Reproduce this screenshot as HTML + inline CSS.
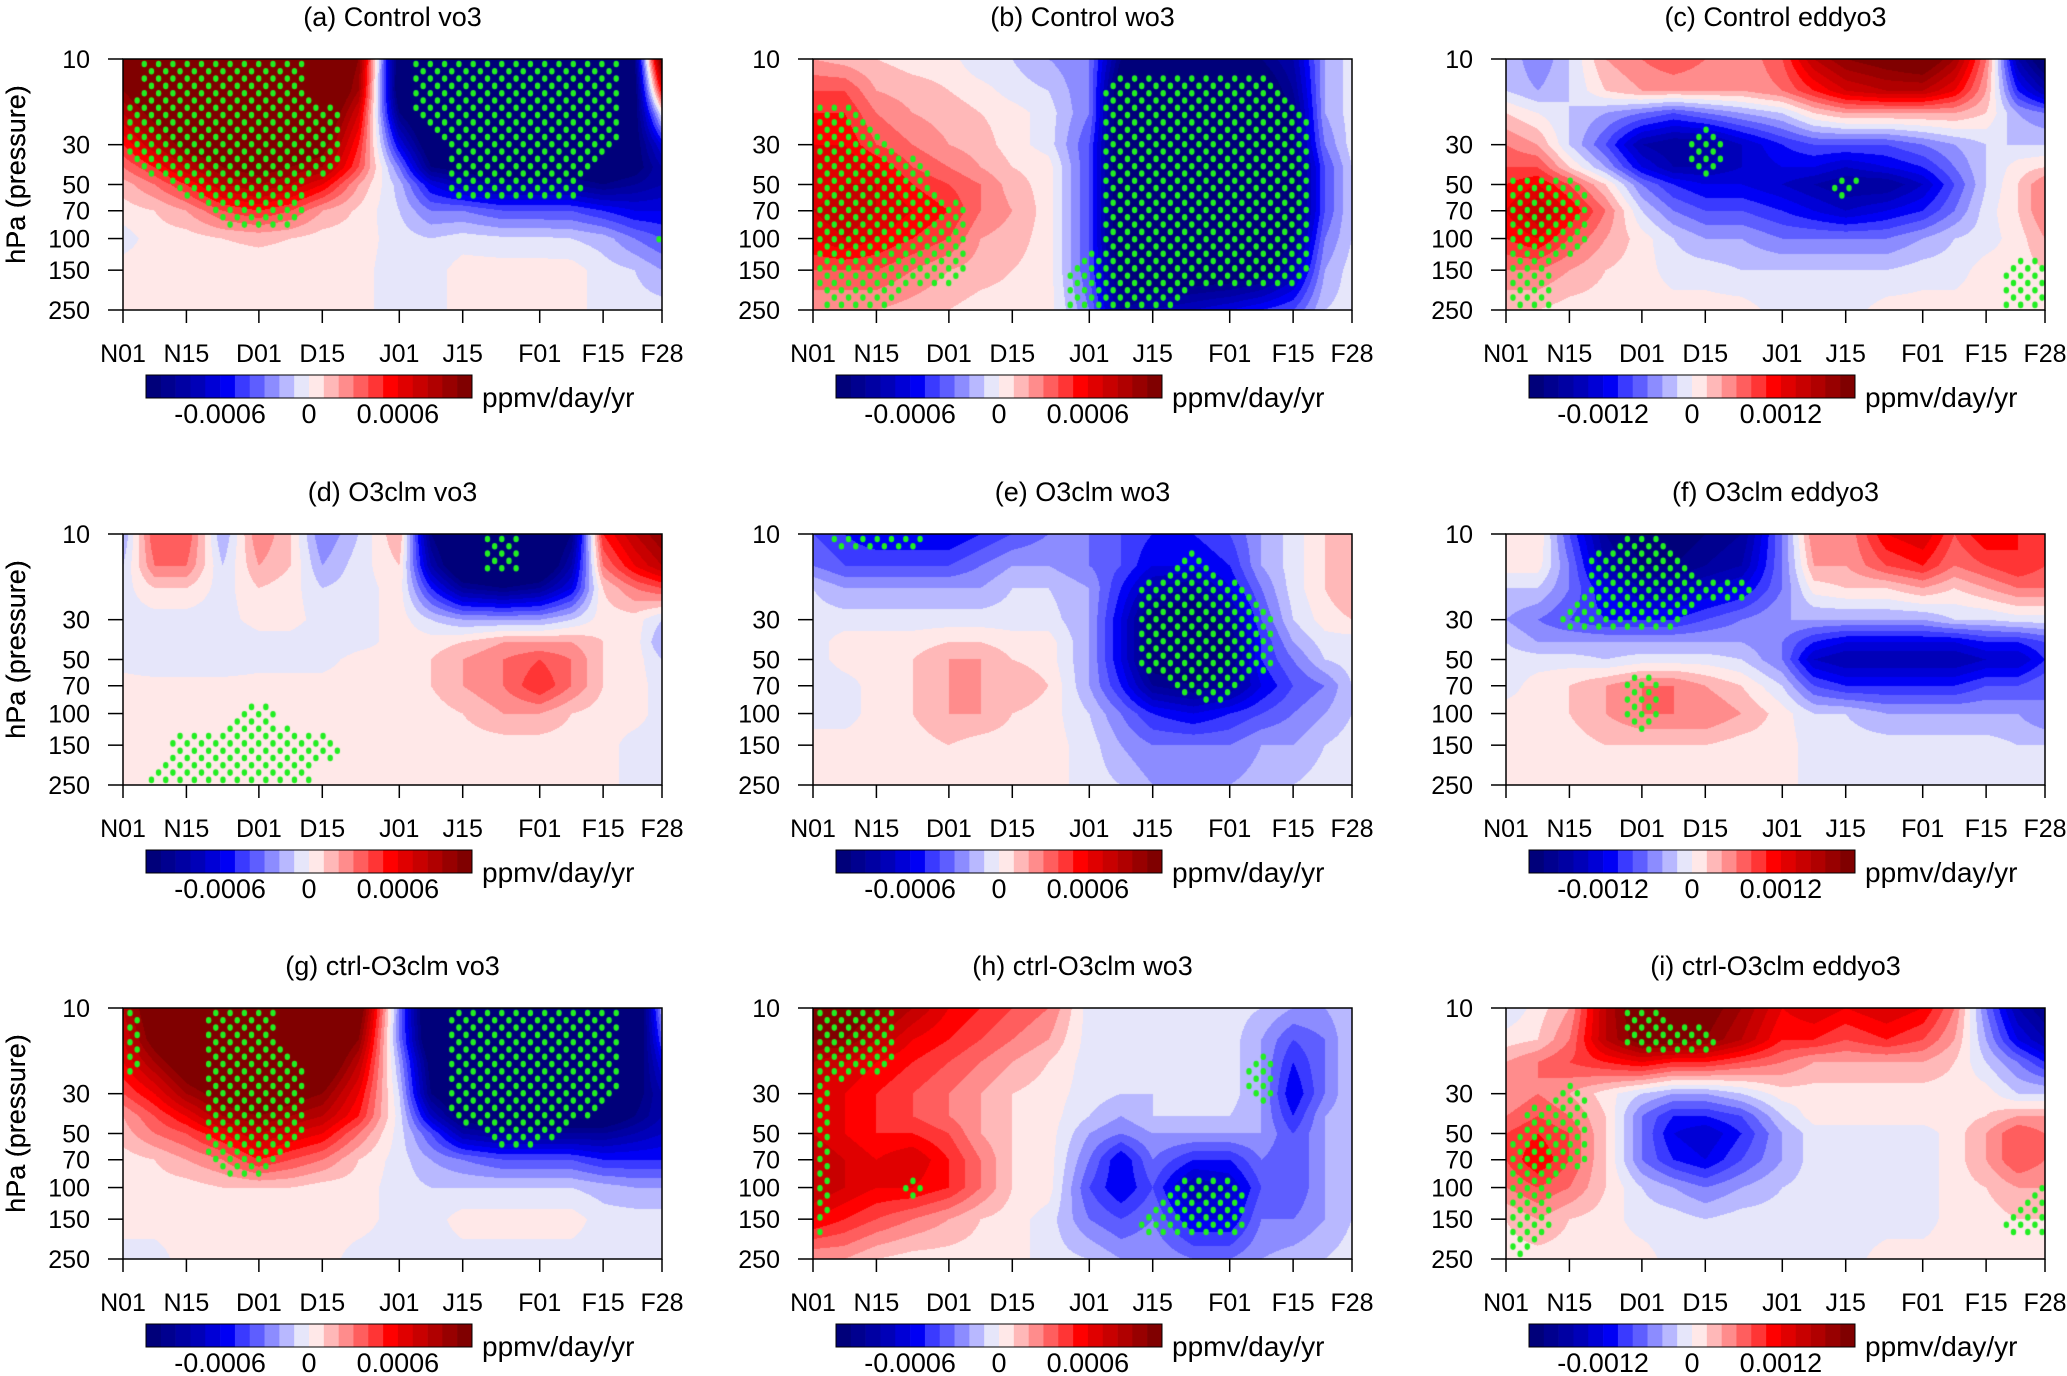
<!DOCTYPE html>
<html><head><meta charset="utf-8">
<style>
html,body{margin:0;padding:0;background:#fff;}
#wrap{position:relative;width:2067px;height:1376px;overflow:hidden;font-family:"Liberation Sans",sans-serif;}
canvas{position:absolute;}
svg{position:absolute;left:0;top:0;font-family:"Liberation Sans",sans-serif;}
</style></head>
<body>
<div id="wrap">
<svg id="svg" width="2067" height="1376"></svg>
</div>
<script>
// Grid coordinates (day since Nov 1, pressure hPa)
const days = [0,7,14,22,30,37,44,52,61,68,75,84,92,99,106,113,119];
const pressures = [10,15,20,30,40,50,70,100,150,250];
const xTickDays = [0,14,30,44,61,75,92,106,119];
const xTickLabels = ["N01","N15","D01","D15","J01","J15","F01","F15","F28"];
const yTickValues = [10,30,50,70,100,150,250];
const titles = ["(a) Control vo3","(b) Control wo3","(c) Control eddyo3","(d) O3clm vo3","(e) O3clm wo3","(f) O3clm eddyo3","(g) ctrl-O3clm vo3","(h) ctrl-O3clm wo3","(i) ctrl-O3clm eddyo3"];
const cbLabelsVo = ["-0.0006","0","0.0006"];
const cbLabelsEddy = ["-0.0012","0","0.0012"];
// values in colour-bar level units (1 level = 1e-4 for vo3/wo3, 2e-4 for eddyo3)
const valuesA = [
[12,14,15,15,15,15,14,10,-12,-15,-15,-15,-15,-15,-15,-10,12],
[10,13,14,15,15,15,14,9,-12,-15,-15,-15,-15,-15,-15,-11,6],
[8,11,13,14,15,14,13,7,-10,-14,-15,-15,-15,-15,-14,-11,0],
[5,8,11,12,13,12,11,5,-6,-12,-13,-14,-14,-13,-13,-11,-6],
[3,5,8,10,11,10,9,4,-3,-10,-11,-12,-12,-12,-12,-11,-8],
[1.5,3,5,8,9,8,6,2,-1.5,-6,-8,-9,-9,-9,-10,-9,-8],
[.5,1,2,4,5,4,2,.8,-1,-3,-3,-4,-4,-4,-5,-6,-6],
[-.5,.5,.5,1,1.2,1,.5,.5,-.5,-1,-.5,-.8,-.8,-1,-1.5,-3,-4],
[.5,.5,.5,.5,.5,.5,.5,.3,-.5,-.5,.5,.5,.5,.5,-.5,-1,-2],
[.5,.5,.5,.5,.5,.5,.5,.3,-.5,-.5,.5,.5,.5,.5,-.5,-.5,-.5]];
const maskA = [
[0,1,1,1,1,1,0,0,0,1,1,1,1,1,1,0,0],
[0,1,1,1,1,1,0,0,0,1,1,1,1,1,1,0,0],
[1,1,1,1,1,1,1,0,0,1,1,1,1,1,1,0,0],
[1,1,1,1,1,1,1,0,0,0,1,1,1,1,1,0,0],
[0,1,1,1,1,1,1,0,0,0,1,1,1,1,0,0,0],
[0,0,1,1,1,1,0,0,0,0,1,1,1,1,0,0,0],
[0,0,0,1,1,1,0,0,0,0,0,0,0,0,0,0,0],
[0,0,0,0,0,0,0,0,0,0,0,0,0,0,0,0,1],
[0,0,0,0,0,0,0,0,0,0,0,0,0,0,0,0,0],
[0,0,0,0,0,0,0,0,0,0,0,0,0,0,0,0,0]];
const valuesB = [
[2,1.5,1,.5,.5,-1,-1,-2,-3,-10,-11,-11,-11,-10,-8,-2,-.5],
[4,4,2,1.5,1,.5,-.5,-1,-3,-12,-13,-13,-13,-12,-9,-2,-.5],
[5,5,3,2,1.5,1,.5,-.5,-3,-12,-14,-14,-14,-13,-10,-2,-.5],
[6,6,4,3,2,1.5,.5,-.5,-4,-12,-14,-15,-14,-13,-10,-3,-.5],
[6,7,6,4,3,2,1,.5,-4,-12,-14,-15,-15,-14,-11,-4,-1],
[6,7,7,5,4,3,1.5,.5,-4,-12,-14,-15,-15,-14,-11,-4,-1],
[7,8,7,6,5,3,2,.5,-4,-12,-14,-15,-15,-14,-11,-4,-1],
[6,7,6,5,4,2,1.5,.5,-4,-12,-13,-14,-14,-13,-10,-3,-1],
[4,4,4,3,2,1.5,1,.5,-4,-11,-12,-12,-12,-11,-8,-2,-.5],
[2,2,2,1.5,1,.5,.5,.5,-3,-9,-8,-7,-6,-5,-4,-1,-.5]];
const maskB = [
[0,0,0,0,0,0,0,0,0,0,0,0,0,0,0,0,0],
[0,0,0,0,0,0,0,0,0,1,1,1,1,1,0,0,0],
[1,1,0,0,0,0,0,0,0,1,1,1,1,1,1,0,0],
[1,1,1,0,0,0,0,0,0,1,1,1,1,1,1,0,0],
[1,1,1,1,0,0,0,0,0,1,1,1,1,1,1,0,0],
[1,1,1,1,0,0,0,0,0,1,1,1,1,1,1,0,0],
[1,1,1,1,1,0,0,0,0,1,1,1,1,1,1,0,0],
[1,1,1,1,1,0,0,0,0,1,1,1,1,1,1,0,0],
[1,1,1,1,1,0,0,0,1,1,1,1,1,1,1,0,0],
[0,1,1,0,0,0,0,0,1,1,1,0,0,0,0,0,0]];
const valuesC = [
[-1,-3,-1,2,3,4,3,2,4,8,10,11,12,9,3,-8,-12],
[-1,-2,-1,1,2,2,2,2,3,5,7,8,8,6,2,-5,-8],
[1,0,-1,-2,-3,-4,-3,-2,-1,1,2,2,2,2,1,-2,-3],
[3,2,-1,-4,-8,-9,-9,-7,-5,-4,-4,-4,-3,-2,-1,-1,-1],
[4,4,1,-2,-6,-8,-8,-7,-6,-6,-7,-6,-5,-3,-1,.5,1],
[5,6,4,1,-3,-5,-6,-6,-7,-8,-9,-9,-7,-4,-1,1,3],
[6,8,6,3,-1,-3,-4,-4,-5,-6,-7,-6,-5,-3,-.5,1,3],
[5,6,4,2,.5,-1,-2,-2,-3,-3,-3,-3,-2,-1,-.5,.5,2],
[3,3,2,1,.5,-.5,-.5,-1,-1,-1,-1,-1,-.5,-.5,.5,.5,1],
[1,1,.5,.5,.5,.5,.5,.5,-.5,-.5,-.5,.5,.5,.5,.5,.5,.5]];
const maskC = [
[0,0,0,0,0,0,0,0,0,0,0,0,0,0,0,0,0],
[0,0,0,0,0,0,0,0,0,0,0,0,0,0,0,0,0],
[0,0,0,0,0,0,0,0,0,0,0,0,0,0,0,0,0],
[0,0,0,0,0,0,1,0,0,0,0,0,0,0,0,0,0],
[0,0,0,0,0,0,1,0,0,0,0,0,0,0,0,0,0],
[1,1,1,0,0,0,0,0,0,0,1,0,0,0,0,0,0],
[1,1,1,0,0,0,0,0,0,0,0,0,0,0,0,0,0],
[1,1,1,0,0,0,0,0,0,0,0,0,0,0,0,0,0],
[1,1,0,0,0,0,0,0,0,0,0,0,0,0,0,1,1],
[1,1,0,0,0,0,0,0,0,0,0,0,0,0,0,1,1]];
const valuesD = [
[-2,4,4,-2,3,1,-3,-1,2,-10,-14,-15,-14,-10,5,8,10],
[-1,3,3,-1,2,1,-2,-.5,1,-8,-13,-14,-13,-8,3,6,8],
[-.5,1,1,-.5,1,.5,-1,-.5,.5,-5,-9,-10,-9,-6,1,3,4],
[-.5,-.5,-.5,-.5,.5,.5,-.5,-.5,.5,-1,-2,-2,-2,-1,.5,.5,-1],
[-1,-1,-1,-1,-.5,-.5,-1,-.5,.5,.5,1,2,2,2,1,.5,-2],
[-.5,-1,-1,-1,-.5,-.5,-.5,.5,.5,1,2,3,4,3,1,.5,-1],
[.5,.5,.5,.5,.5,.5,.5,.5,.5,1,2,3,5,3,1,.5,-.5],
[.5,.5,.5,.5,.5,.5,.5,.5,.5,.5,1,2,2,1,.5,.5,-.5],
[.5,.5,.5,.5,.5,.5,.5,.5,.5,.5,.5,.5,.5,.5,.5,-.5,-.5],
[.5,.5,.5,.5,.5,.5,.5,.5,.5,.5,.5,.5,.5,.5,.5,-.5,-.5]];
const maskD = [
[0,0,0,0,0,0,0,0,0,0,0,1,0,0,0,0,0],
[0,0,0,0,0,0,0,0,0,0,0,1,0,0,0,0,0],
[0,0,0,0,0,0,0,0,0,0,0,0,0,0,0,0,0],
[0,0,0,0,0,0,0,0,0,0,0,0,0,0,0,0,0],
[0,0,0,0,0,0,0,0,0,0,0,0,0,0,0,0,0],
[0,0,0,0,0,0,0,0,0,0,0,0,0,0,0,0,0],
[0,0,0,0,0,0,0,0,0,0,0,0,0,0,0,0,0],
[0,0,0,0,1,0,0,0,0,0,0,0,0,0,0,0,0],
[0,0,1,1,1,1,1,0,0,0,0,0,0,0,0,0,0],
[0,1,1,1,1,1,0,0,0,0,0,0,0,0,0,0,0]];
const valuesE = [
[-4,-5,-6,-6,-6,-5,-4,-3,-3,-4,-5,-5,-4,-2,-.5,1,2],
[-3,-4,-4,-4,-4,-3,-2,-2,-3,-4,-6,-6,-5,-2,-.5,1,2],
[-1,-2,-2,-2,-2,-2,-1,-1,-2,-5,-8,-9,-6,-3,-.5,1,2],
[-.5,-.5,-.5,-.5,-.5,-.5,-.5,-.5,-2,-6,-11,-12,-9,-4,-1,.5,1],
[-.5,.5,.5,.5,1,1,.5,.5,-2,-6,-11,-12,-10,-5,-2,-.5,-.5],
[-.5,.5,.5,1,2,2,1,.5,-2,-6,-11,-12,-10,-5,-3,-1,-.5],
[-1,-.5,.5,1,2,2,2,1,-2,-5,-9,-10,-9,-6,-4,-3,-1],
[-.5,-.5,.5,1,2,2,1,.5,-1,-3,-5,-6,-5,-4,-3,-2,-1],
[.5,.5,.5,.5,1,.5,.5,.5,-.5,-2,-3,-3,-3,-2,-2,-1,-.5],
[.5,.5,.5,.5,.5,.5,.5,.5,-.5,-1,-2,-2,-2,-1.5,-1,-.5,-.5]];
const maskE = [
[0,1,1,1,0,0,0,0,0,0,0,0,0,0,0,0,0],
[0,0,0,0,0,0,0,0,0,0,0,1,0,0,0,0,0],
[0,0,0,0,0,0,0,0,0,0,1,1,1,0,0,0,0],
[0,0,0,0,0,0,0,0,0,0,1,1,1,1,0,0,0],
[0,0,0,0,0,0,0,0,0,0,1,1,1,1,0,0,0],
[0,0,0,0,0,0,0,0,0,0,1,1,1,1,0,0,0],
[0,0,0,0,0,0,0,0,0,0,0,1,1,0,0,0,0],
[0,0,0,0,0,0,0,0,0,0,0,0,0,0,0,0,0],
[0,0,0,0,0,0,0,0,0,0,0,0,0,0,0,0,0],
[0,0,0,0,0,0,0,0,0,0,0,0,0,0,0,0,0]];
const valuesF = [
[.5,1,-4,-9,-11,-11,-10,-9,-3,3,2,6,7,4,6,5,4],
[.5,.5,-3,-8,-10,-10,-9,-8,-3,2,2,4,5,3,4,5,4],
[-1,-1,-3,-6,-8,-8,-7,-6,-3,.5,1,1,2,1,2,3,3],
[-2,-3,-4,-5,-5,-5,-4,-3,-2,-2,-2,-2,-2,-1,-1,-.5,-.5],
[-1,-2,-2,-2,-2,-2,-2,-2,-3,-5,-6,-6,-6,-6,-5,-5,-4],
[-.5,-.5,-.5,-1,-.5,-.5,-.5,-1,-3,-7,-8,-8,-8,-8,-7,-7,-5],
[-.5,.5,1,2,3,3,2,1,-1,-4,-5,-5,-5,-5,-4,-4,-3],
[.5,.5,1,2,3,3,3,2,.5,-1,-1,-2,-2,-2,-2,-2,-3],
[.5,.5,.5,1,1,1,1,.5,.5,-.5,-.5,-.5,-.5,-.5,-.5,-1,-1],
[.5,.5,.5,.5,.5,.5,.5,.5,.5,-.5,-.5,-.5,-.5,-.5,-.5,-.5,-.5]];
const maskF = [
[0,0,0,0,1,0,0,0,0,0,0,0,0,0,0,0,0],
[0,0,0,1,1,1,0,0,0,0,0,0,0,0,0,0,0],
[0,0,0,1,1,1,1,1,0,0,0,0,0,0,0,0,0],
[0,0,1,1,1,1,0,0,0,0,0,0,0,0,0,0,0],
[0,0,0,0,0,0,0,0,0,0,0,0,0,0,0,0,0],
[0,0,0,0,0,0,0,0,0,0,0,0,0,0,0,0,0],
[0,0,0,0,1,0,0,0,0,0,0,0,0,0,0,0,0],
[0,0,0,0,1,0,0,0,0,0,0,0,0,0,0,0,0],
[0,0,0,0,0,0,0,0,0,0,0,0,0,0,0,0,0],
[0,0,0,0,0,0,0,0,0,0,0,0,0,0,0,0,0]];
const valuesG = [
[8,12,15,15,15,15,15,12,-3,-14,-15,-15,-15,-15,-15,-14,-2],
[7,11,14,15,15,15,14,10,-3,-13,-15,-15,-15,-15,-15,-13,-4],
[6,9,12,14,15,14,13,8,-2,-11,-15,-15,-15,-15,-14,-12,-6],
[4,6,9,11,12,11,10,6,-1,-10,-13,-14,-14,-13,-13,-11,-8],
[2,4,6,9,10,9,8,5,-.5,-7,-11,-12,-12,-12,-12,-10,-8],
[1.5,3,4,6,8,7,6,3,-.5,-4,-8,-9,-9,-9,-9,-8,-7],
[.5,1,2,3,5,4,3,1,-.5,-2,-3,-4,-4,-4,-5,-5,-5],
[.5,.5,.5,1,1,1,.5,.5,-.5,-1,-1,-1,-1,-1,-1.5,-2,-2],
[.5,.5,.5,.5,.5,.5,.5,.5,-.5,-.5,.5,.5,.5,.5,-.5,-.5,-.5],
[-.5,-.5,.5,.5,.5,.5,.5,-.5,-.5,-.5,-.5,-.5,-.5,-.5,-.5,-.5,-.5]];
const maskG = [
[1,0,0,1,1,0,0,0,0,0,1,1,1,1,1,0,0],
[1,0,0,1,1,0,0,0,0,0,1,1,1,1,1,0,0],
[1,0,0,1,1,1,0,0,0,0,1,1,1,1,1,0,0],
[0,0,0,1,1,1,0,0,0,0,1,1,1,1,1,0,0],
[0,0,0,1,1,1,0,0,0,0,1,1,1,1,0,0,0],
[0,0,0,1,1,1,0,0,0,0,0,1,1,0,0,0,0],
[0,0,0,1,1,0,0,0,0,0,0,0,0,0,0,0,0],
[0,0,0,0,0,0,0,0,0,0,0,0,0,0,0,0,0],
[0,0,0,0,0,0,0,0,0,0,0,0,0,0,0,0,0],
[0,0,0,0,0,0,0,0,0,0,0,0,0,0,0,0,0]];
const valuesH = [
[12,12,10,8,6,5,4,3,-.5,-1,-1,-1,-.5,-1,-2,-2,-1],
[10,10,8,6,5,4,3,2,-.5,-1,-1,-1,-.5,-2,-4,-3,-1],
[8,7,6,5,4,3,2,1,-.5,-1,-1,-.5,-.5,-2,-5,-3,-1],
[7,6,5,4,3,2,1,.5,-.5,-1,-1,-.5,-.5,-2,-6,-3,-1],
[7,6,5,4,3,2,1,.5,-1,-2,-1,-1,-1,-2,-5,-2,-1],
[7,6,5,5,4,2,1,.5,-2,-3,-2,-2,-2,-2,-4,-2,-1],
[8,7,6,7,5,3,1,.5,-3,-6,-3,-5,-5,-3,-4,-2,-1],
[8,7,6,6,5,3,1,.5,-4,-6,-4,-8,-7,-4,-4,-2,-1],
[6,5,4,3,2,1,.5,-.5,-3,-4,-3,-6,-6,-3,-3,-2,-1],
[2,2,1,.5,.5,.5,.5,-.5,-1,-2,-2,-3,-3,-2,-1.5,-1,-.5]];
const maskH = [
[1,1,1,0,0,0,0,0,0,0,0,0,0,0,0,0,0],
[1,1,1,0,0,0,0,0,0,0,0,0,0,0,0,0,0],
[1,1,1,0,0,0,0,0,0,0,0,0,0,1,0,0,0],
[1,0,0,0,0,0,0,0,0,0,0,0,0,1,0,0,0],
[1,0,0,0,0,0,0,0,0,0,0,0,0,0,0,0,0],
[1,0,0,0,0,0,0,0,0,0,0,0,0,0,0,0,0],
[1,0,0,0,0,0,0,0,0,0,0,0,0,0,0,0,0],
[1,0,0,1,0,0,0,0,0,0,0,1,1,0,0,0,0],
[1,0,0,0,0,0,0,0,0,0,1,1,1,0,0,0,0],
[0,0,0,0,0,0,0,0,0,0,0,0,0,0,0,0,0]];
const valuesI = [
[-1,.5,2,8,12,12,11,9,6,7,6,7,6,3,-3,-8,-10],
[.5,1,3,8,11,11,10,8,5,5,4,5,4,2,-2,-6,-8],
[2,3,4,5,6,5,5,4,3,2,2,2,2,1,-1,-3,-5],
[2,3,2,.5,-1,-2,-2,-1,.5,.5,.5,.5,.5,.5,.5,-1,-1],
[3,4,3,1,-3,-5,-5,-4,-1,.5,.5,.5,.5,.5,1,2,2],
[4,5,4,1,-3,-6,-7,-5,-2,-.5,-.5,-.5,-.5,.5,2,4,3],
[4,6,4,1,-3,-5,-6,-4,-2,-.5,-1,-1,-.5,.5,2,4,3],
[3,4,3,1,-1,-2,-3,-2,-1,-.5,-.5,-.5,-.5,.5,1,2,2],
[1,2,1,.5,-.5,-.5,-1,-.5,-.5,-.5,-.5,-.5,-.5,.5,.5,1,1],
[.5,.5,.5,.5,.5,-.5,-.5,-.5,-.5,-.5,-.5,.5,.5,.5,.5,.5,.5]];
const maskI = [
[0,0,0,0,1,0,0,0,0,0,0,0,0,0,0,0,0],
[0,0,0,0,1,1,1,0,0,0,0,0,0,0,0,0,0],
[0,0,0,0,0,0,0,0,0,0,0,0,0,0,0,0,0],
[0,0,1,0,0,0,0,0,0,0,0,0,0,0,0,0,0],
[0,1,1,0,0,0,0,0,0,0,0,0,0,0,0,0,0],
[0,1,1,0,0,0,0,0,0,0,0,0,0,0,0,0,0],
[1,1,1,0,0,0,0,0,0,0,0,0,0,0,0,0,0],
[1,1,0,0,0,0,0,0,0,0,0,0,0,0,0,0,1],
[1,1,0,0,0,0,0,0,0,0,0,0,0,0,0,1,1],
[1,0,0,0,0,0,0,0,0,0,0,0,0,0,0,0,0]];

const colors = ["#00007a","#00008f","#0000a3","#0000b8","#0000d6","#0000f5","#3a3aff","#5e5eff","#8c8cff","#b8b8ff","#e6e6fa","#ffe8e8","#ffb8b8","#ff8c8c","#ff5e5e","#ff3535","#ff0000","#e00000","#c80000","#b00000","#980000","#800000"];
const panelValues=[valuesA,valuesB,valuesC,valuesD,valuesE,valuesF,valuesG,valuesH,valuesI];
const panelMasks=[maskA,maskB,maskC,maskD,maskE,maskF,maskG,maskH,maskI];

const colLeft=[123,813,1506], rowTop=[59,534,1008], PW=539, PH=251;
const svg=document.getElementById('svg');
const wrap=document.getElementById('wrap');
const NS='http://www.w3.org/2000/svg';
function mk(tag,attrs,parent){const e=document.createElementNS(NS,tag);for(const k in attrs)e.setAttribute(k,attrs[k]);(parent||svg).appendChild(e);return e;}
const rgb=colors.map(c=>[parseInt(c.substr(1,2),16),parseInt(c.substr(3,2),16),parseInt(c.substr(5,2),16)]);
const lp=pressures.map(p=>Math.log(p));
function findIdx(arr,v){for(let i=0;i<arr.length-1;i++){if(v<=arr[i+1])return i;}return arr.length-2;}
function interp(grid,d,logp){
  const i=findIdx(days,d), j=findIdx(lp,logp);
  const fx=Math.min(1,Math.max(0,(d-days[i])/(days[i+1]-days[i])));
  const fy=Math.min(1,Math.max(0,(logp-lp[j])/(lp[j+1]-lp[j])));
  const a=grid[j][i],b=grid[j][i+1],c=grid[j+1][i],e=grid[j+1][i+1];
  return (a*(1-fx)+b*fx)*(1-fy)+(c*(1-fx)+e*fx)*fy;
}
function xd(left,d){return left+PW*d/119;}
function yp(top,p){return top+PH*Math.log(p/10)/Math.log(25);}

for(let k=0;k<9;k++){
  const left=colLeft[k%3], top=rowTop[Math.floor(k/3)];
  const vals=panelValues[k], mask=panelMasks[k];
  const cv=document.createElement('canvas');
  cv.width=PW;cv.height=PH;cv.style.left=left+'px';cv.style.top=top+'px';
  
  
  wrap.insertBefore(cv,svg);
  const ctx=cv.getContext('2d');
  const img=ctx.createImageData(PW,PH);
  for(let py=0;py<PH;py++){
    const logp=Math.log(10)+(py+0.5)/PH*Math.log(25);
    for(let px=0;px<PW;px++){
      const d=(px+0.5)/PW*119;
      const v=interp(vals,d,logp);
      const bin=Math.max(0,Math.min(21,Math.floor(v)+11));
      const c=rgb[bin], o=(py*PW+px)*4;
      img.data[o]=c[0];img.data[o+1]=c[1];img.data[o+2]=c[2];img.data[o+3]=255;
    }
  }
  ctx.putImageData(img,0,0);
  ctx.fillStyle='#22ee22';
  for(let r=0;;r++){
    const y=5+r*7.3; if(y>PH-3)break;
    for(let x=7+(r%2)*7.15;x<PW-2;x+=14.3){
      const d=x/PW*119, logp=Math.log(10)+y/PH*Math.log(25);
      if(interp(mask,d,logp)>=0.5){ctx.beginPath();ctx.ellipse(x,y,2.7,3.3,0,0,Math.PI*2);ctx.fill();}
    }
  }
  const fr=mk('rect',{x:left,y:top,width:PW,height:PH,fill:'none',stroke:'#000','stroke-width':1.5});
  
  
  const tt=mk('text',{x:left+PW/2,y:top-33,'text-anchor':'middle','font-size':27,fill:'#000'});
  tt.textContent=titles[k];
  
  
  const yt=mk('text',{x:0,y:0,'text-anchor':'middle','font-size':27,transform:`translate(25,${top+PH/2-10}) rotate(-90)`});
  yt.textContent='hPa (pressure)';
  
  
  yTickValues.forEach(p=>{
    const y=yp(top,p);
    const tk=mk('line',{x1:left-15,x2:left,y1:y,y2:y,stroke:'#000','stroke-width':1.5});
    
    
    const tl=mk('text',{x:left-33,y:y+9,'text-anchor':'end','font-size':25});
    tl.textContent=p;
    
    
  });
  xTickDays.forEach((d,i)=>{
    const x=xd(left,d);
    const tk=mk('line',{x1:x,x2:x,y1:top+PH,y2:top+PH+13,stroke:'#000','stroke-width':1.5});
    
    
    const tl=mk('text',{x:x,y:top+PH+52,'text-anchor':'middle','font-size':25});
    tl.textContent=xTickLabels[i];
    
    
  });
  const cbx=left+23, cby=top+PH+65, bw=326/22;
  const cbg=mk('g',{});
  
  
  colors.forEach((c,i)=>{
    const r=mk('rect',{x:cbx+i*bw,y:cby,width:bw+0.3,height:23,fill:c},cbg);
    
    
  });
  const cbo=mk('rect',{x:cbx,y:cby,width:326,height:23,fill:'none',stroke:'#000','stroke-width':1},cbg);
  
  
  const labs=(k%3===2)?cbLabelsEddy:cbLabelsVo;
  [5,11,17].forEach((b,i)=>{
    const tl=mk('text',{x:cbx+b*bw,y:cby+48,'text-anchor':'middle','font-size':27});
    tl.textContent=labs[i];
    
    
  });
  const un=mk('text',{x:cbx+336,y:cby+32,'font-size':28});
  un.textContent='ppmv/day/yr';
  
  
}
</script>
</body></html>
